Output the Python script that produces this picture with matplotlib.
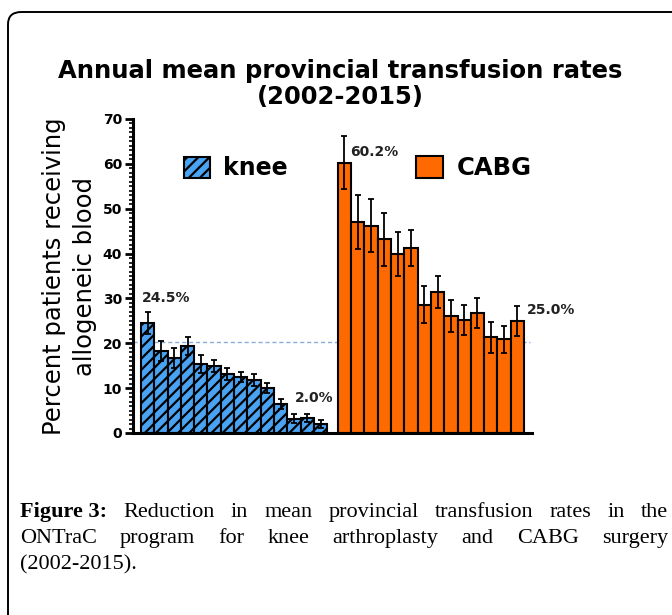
import numpy as np
import matplotlib
matplotlib.use("Agg")
import matplotlib.pyplot as plt
from matplotlib.patches import FancyBboxPatch, Patch
from matplotlib.ticker import MultipleLocator

# knee arthroplasty, 2002-2015
knee_vals = [24.5, 18.2, 16.8, 19.4, 15.4, 14.9, 13.2, 12.5, 11.8, 10.0, 6.5, 3.2, 3.4, 2.0]
knee_err = [2.5, 2.2, 2.2, 2.0, 2.1, 1.4, 1.4, 1.2, 1.3, 1.1, 1.1, 1.0, 0.9, 0.9]
# CABG surgery, 2002-2015
cabg_vals = [60.2, 47.1, 46.2, 43.2, 39.9, 41.2, 28.6, 31.4, 26.1, 25.2, 26.7, 21.3, 20.9, 25.0]
cabg_err = [5.9, 6.0, 5.9, 5.9, 5.0, 4.0, 4.1, 3.6, 3.5, 3.4, 3.3, 3.4, 3.0, 3.3]
labels = [("24.5%", 0, "knee"), ("2.0%", 13, "knee"), ("60.2%", 0, "cabg"), ("25.0%", 13, "cabg")]
ref_line = 20.3

title = "Annual mean provincial transfusion rates\n(2002-2015)"
ylabel = "Percent patients receiving\nallogeneic blood"
caption_lines = [
    "Reduction in mean provincial transfusion rates in the",
    "ONTraC program for knee arthroplasty and CABG surgery",
    "(2002-2015).",
]

BLUE = "#4aa3f2"
ORANGE = "#ff6a00"
plt.rcParams["hatch.linewidth"] = 1.6

fig = plt.figure(figsize=(6.72, 6.15), dpi=100)
W, H = 672, 615

# rounded frame around the whole panel
frame = FancyBboxPatch((8 / W, 1 - 900 / H), 900 / W, 888 / H,
                       boxstyle="round,pad=0,rounding_size=0.02",
                       transform=fig.transFigure, fill=False, lw=1.4, ec="black",
                       clip_on=False)
fig.patches.append(frame)

ax = fig.add_axes([133 / W, 1 - 433 / H, 399 / W, 314 / H])

x_knee = np.arange(len(knee_vals))
x_cabg = np.arange(len(cabg_vals)) + len(knee_vals) + 0.8

ax.bar(x_knee, knee_vals, width=1.0, color=BLUE, edgecolor="black", lw=1.5,
       hatch="///", zorder=2)
ax.errorbar(x_knee, knee_vals, yerr=knee_err, fmt="none", ecolor="black",
            elinewidth=1.3, capsize=2.5, capthick=1.3, zorder=3)
ax.bar(x_cabg, cabg_vals, width=1.0, color=ORANGE, edgecolor="black", lw=1.5, zorder=2)
ax.errorbar(x_cabg, cabg_vals, yerr=cabg_err, fmt="none", ecolor="black",
            elinewidth=1.3, capsize=2.5, capthick=1.3, zorder=3)

ax.axhline(ref_line, xmin=0, xmax=0.995, color="#8aaedb", lw=1.0,
           linestyle=(0, (3, 2)), zorder=1)

ax.set_xlim(-1.1, 28.9)
ax.set_ylim(0, 70)
ax.yaxis.set_major_locator(MultipleLocator(10))
ax.yaxis.set_minor_locator(MultipleLocator(1))
ax.tick_params(axis="y", which="major", length=6, width=2, direction="out", pad=2,
               labelsize=10)
ax.tick_params(axis="y", which="minor", length=3, width=1.2, direction="out")
for t in ax.get_yticklabels():
    t.set_fontweight("bold")
ax.set_xticks([])
for s in ["top", "right"]:
    ax.spines[s].set_visible(False)
ax.spines["left"].set_linewidth(2.2)
ax.spines["bottom"].set_linewidth(2.2)

ax.set_ylabel(ylabel, fontsize=17.5, linespacing=1.35, labelpad=4)

# value labels
for txt, i, grp in labels:
    xs, vs = (x_knee, knee_vals) if grp == "knee" else (x_cabg, cabg_vals)
    if grp == "knee" and i == 0:
        pos = (xs[i] - 0.45, 30)
    elif grp == "knee":
        pos = (xs[i] - 1.95, 7.8)
    elif i == 0:
        pos = (xs[i] + 0.45, 62.6)
    else:
        pos = (xs[i] + 0.75, 27.4)
    ax.text(pos[0], pos[1], txt, fontsize=10, fontweight="bold", ha="left",
            va="center", color="#222222")

# legends
leg1 = ax.legend(handles=[Patch(facecolor=BLUE, edgecolor="black", hatch="///", lw=1.5)],
                 labels=["knee"], loc="center left", bbox_to_anchor=(0.075, 0.843),
                 frameon=False, prop={"weight": "bold", "size": 17},
                 handlelength=1.1, handleheight=1.0, handletextpad=0.55)
ax.add_artist(leg1)
ax.legend(handles=[Patch(facecolor=ORANGE, edgecolor="black", lw=1.5)],
          labels=["CABG"], loc="center left", bbox_to_anchor=(0.655, 0.843),
          frameon=False, prop={"weight": "bold", "size": 17.5},
          handlelength=1.1, handleheight=1.0, handletextpad=0.55)

fig.text(340 / W, 1 - 84 / H, title, ha="center", va="center", fontsize=17.5,
         fontweight="bold", linespacing=1.08)

# justified caption
renderer = fig.canvas.get_renderer()
left_px, right_px = 20, 668
cap_font = dict(family="Liberation Serif", fontsize=16)
line_y = [517, 543, 569]
for li, line in enumerate(caption_lines):
    words = line.split()
    items = []
    if li == 0:
        items.append(("Figure 3:", "bold"))
    items += [(w, "normal") for w in words]
    arts = []
    for w, wt in items:
        t = fig.text(0, 1 - line_y[li] / H, w, fontweight=wt, va="baseline", ha="left", **cap_font)
        arts.append(t)
    widths = [a.get_window_extent(renderer).width for a in arts]
    if li < len(caption_lines) - 1:
        gap = (right_px - left_px - sum(widths)) / (len(arts) - 1)
    else:
        gap = 4
    x = left_px
    for a, wd in zip(arts, widths):
        a.set_x(x / W)
        x += wd + gap

fig.savefig("out.png", dpi=100)
